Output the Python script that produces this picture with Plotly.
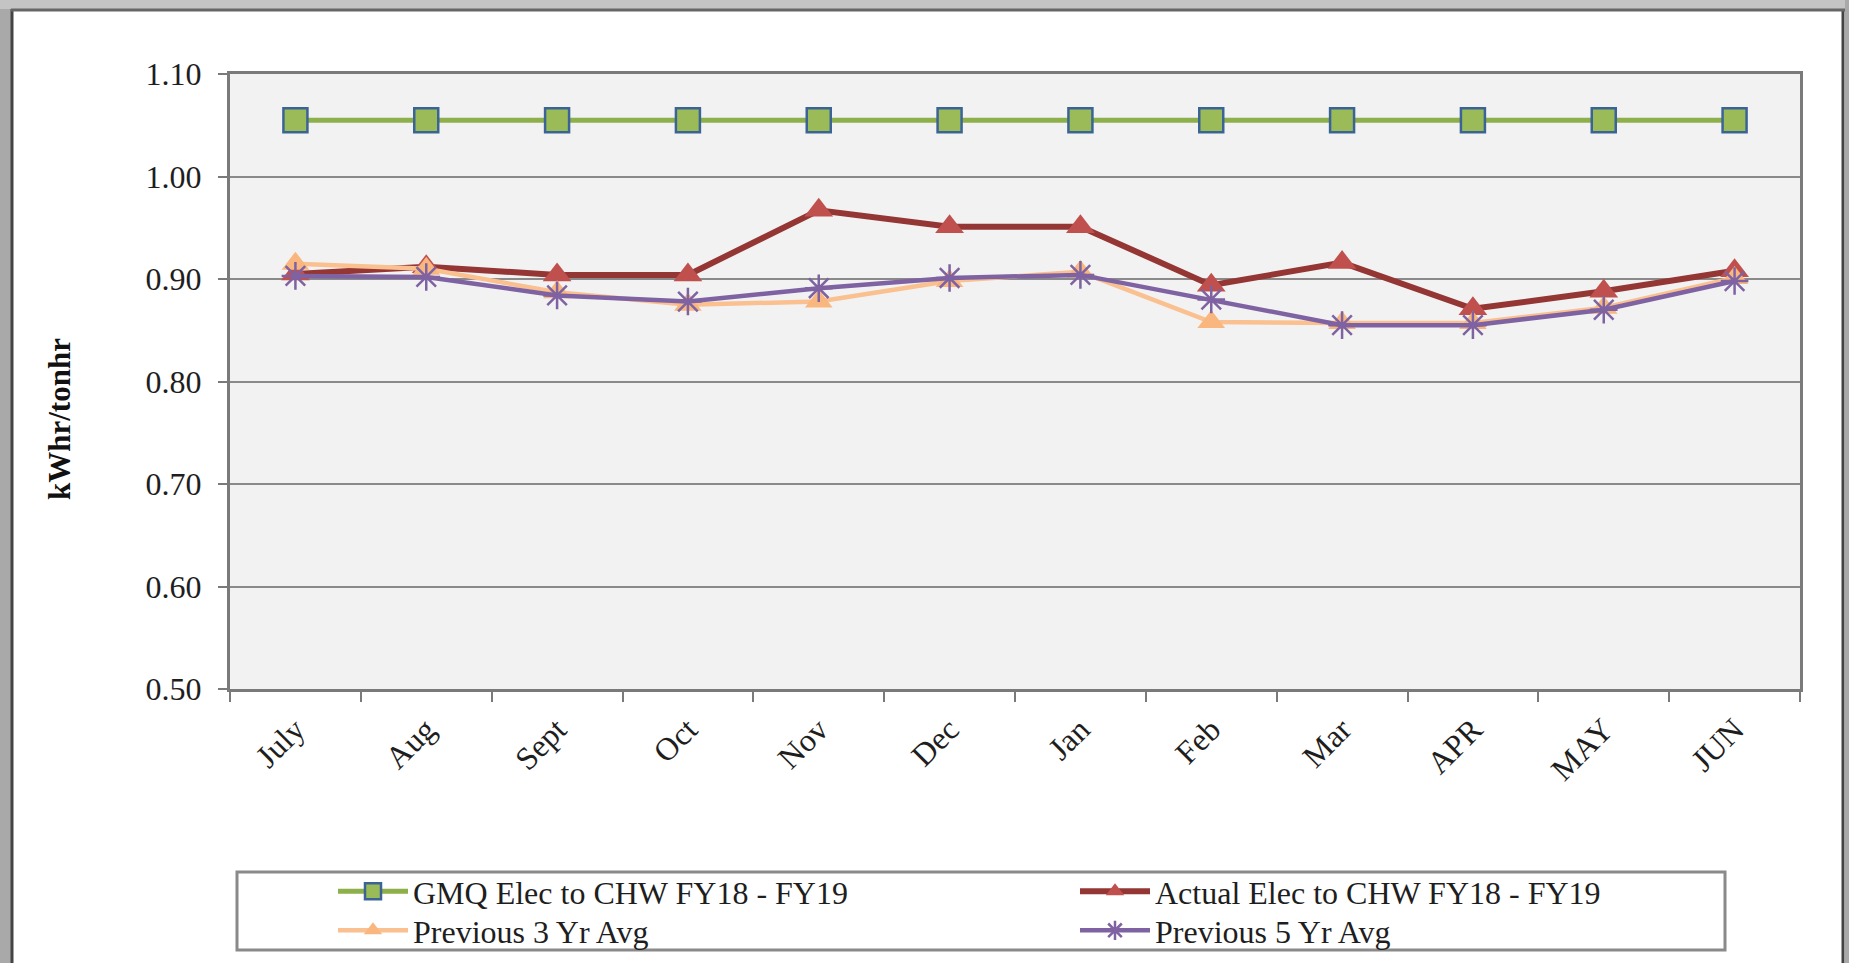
import plotly.graph_objects as go

months = ["July", "Aug", "Sept", "Oct", "Nov", "Dec", "Jan", "Feb", "Mar", "APR", "MAY", "JUN"]
gmq = [1.055] * 12
actual = [0.905, 0.912, 0.904, 0.904, 0.967, 0.951, 0.951, 0.894, 0.916, 0.871, 0.888, 0.908]
prev3 = [0.915, 0.910, 0.887, 0.875, 0.878, 0.898, 0.907, 0.858, 0.857, 0.857, 0.872, 0.901]
prev5 = [0.903, 0.902, 0.884, 0.878, 0.891, 0.901, 0.904, 0.880, 0.855, 0.855, 0.870, 0.898]
y_ticks = [0.5, 0.6, 0.7, 0.8, 0.9, 1.0, 1.1]

W, H = 1849, 963
L, R, T, B = 230, 1800, 74, 689
pw, ph = R - L, B - T

def px(x):
    return (x - L) / pw

def py(y):
    return (B - y) / ph

FONT = "Liberation Serif, Times New Roman, serif"
TXT = "#1e1e1e"

fig = go.Figure()
fig.add_trace(go.Scatter(
    x=months, y=gmq, name="GMQ Elec to CHW FY18 - FY19", mode="lines+markers", legend="legend",
    line=dict(color="#8DB04A", width=5),
    marker=dict(symbol="square", size=24, color="#9BBB59", line=dict(color="#3B6496", width=2.5))))
fig.add_trace(go.Scatter(
    x=months, y=actual, name="Actual Elec to CHW FY18 - FY19", mode="lines+markers", legend="legend2",
    line=dict(color="#943634", width=6),
    marker=dict(symbol="triangle-up", size=25, color="#C0504D", line=dict(width=0))))
fig.add_trace(go.Scatter(
    x=months, y=prev3, name="Previous 3 Yr Avg", mode="lines+markers", legend="legend3",
    line=dict(color="#FAC090", width=4.5),
    marker=dict(symbol="triangle-up", size=24, color="#F9B77F", line=dict(width=0))))
fig.add_trace(go.Scatter(
    x=months, y=prev5, name="Previous 5 Yr Avg", mode="lines+markers", legend="legend4",
    line=dict(color="#7E62A2", width=4.5),
    marker=dict(symbol="asterisk-open", size=23, color="#7E62A2", line=dict(color="#7E62A2", width=2.5))))

shapes = [
    # outer grey frame
    dict(type="rect", xref="paper", yref="paper", x0=px(0), x1=px(11), y0=py(H), y1=py(0),
         fillcolor="#a9a9a9", line=dict(width=0), layer="below"),
    dict(type="rect", xref="paper", yref="paper", x0=px(0), x1=px(W), y0=py(9), y1=py(0),
         fillcolor="#c4c4c4", line=dict(width=0), layer="below"),
    dict(type="rect", xref="paper", yref="paper", x0=px(1845), x1=px(W), y0=py(H), y1=py(0),
         fillcolor="#a9a9a9", line=dict(width=0), layer="below"),
    dict(type="line", xref="paper", yref="paper", x0=px(12), x1=px(12), y0=py(9), y1=py(H),
         line=dict(color="#444444", width=3)),
    dict(type="line", xref="paper", yref="paper", x0=px(1843), x1=px(1843), y0=py(9), y1=py(H),
         line=dict(color="#444444", width=3)),
    dict(type="line", xref="paper", yref="paper", x0=px(11), x1=px(1845), y0=py(10), y1=py(10),
         line=dict(color="#666666", width=3)),
    # legend box
    dict(type="rect", xref="paper", yref="paper", x0=px(237), x1=px(1725), y0=py(950), y1=py(872),
         fillcolor="rgba(0,0,0,0)", line=dict(color="#8a8a8a", width=3)),
]

leg_common = dict(orientation="v", yanchor="top", xanchor="left", itemwidth=70,
                  font=dict(family=FONT, size=32, color=TXT),
                  bgcolor="rgba(0,0,0,0)", borderwidth=0, tracegroupgap=0, traceorder="normal")

col1, col2 = 333, 333 + 742
row1, row2 = 864, 903

fig.update_layout(
    width=W, height=H,
    margin=dict(l=L, r=W - R, t=T, b=H - B, autoexpand=False),
    paper_bgcolor="white", plot_bgcolor="#F2F2F2",
    font=dict(family=FONT, size=32, color=TXT),
    showlegend=True,
    legend=dict(x=px(col1), y=py(row1), **leg_common),
    legend2=dict(x=px(col2), y=py(row1), **leg_common),
    legend3=dict(x=px(col1), y=py(row2), **leg_common),
    legend4=dict(x=px(col2), y=py(row2), **leg_common),
    shapes=shapes,
    annotations=[dict(text="<b>kWhr/tonhr</b>", xref="paper", yref="paper",
                      x=px(59), y=py(419), xanchor="center", yanchor="middle",
                      textangle=-90, showarrow=False,
                      font=dict(family=FONT, size=31, color="#111111"))],
)
fig.update_xaxes(type="category", range=[-0.5, 11.5], tickangle=-45,
                 showline=True, linecolor="#7a7a7a", linewidth=3, mirror=True,
                 ticks="outside", tickson="boundaries", ticklen=10, tickcolor="#7a7a7a", tickwidth=2,
                 ticklabelstandoff=6,
                 showgrid=False, tickfont=dict(family=FONT, size=32, color=TXT))
fig.update_yaxes(range=[0.5, 1.1], tickvals=y_ticks, ticktext=[f"{v:.2f}" for v in y_ticks],
                 showline=True, linecolor="#7a7a7a", linewidth=3, mirror=True,
                 ticks="outside", ticklen=9, tickcolor="#7a7a7a", tickwidth=2,
                 ticklabelstandoff=10,
                 showgrid=True, gridcolor="#8a8a8a", gridwidth=2, zeroline=False,
                 tickfont=dict(family=FONT, size=32, color=TXT))

fig.write_html("out.html", config={"displayModeBar": False},
               post_script="document.body.style.margin='0';document.body.style.overflow='hidden';")
